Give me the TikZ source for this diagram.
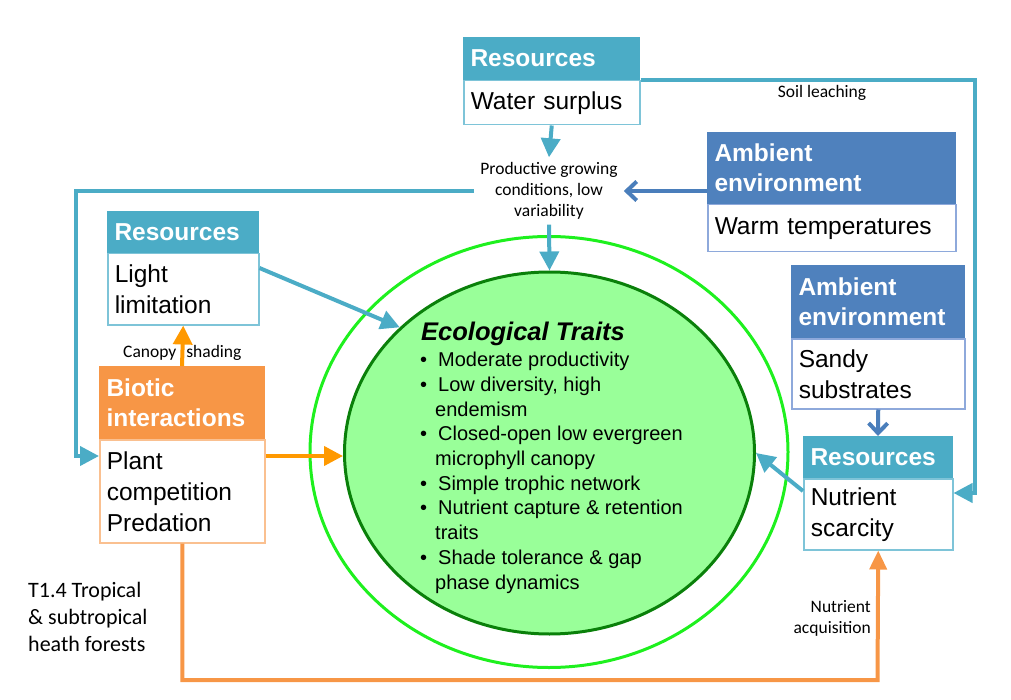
\documentclass[tikz,border=0pt]{standalone}
\usepackage{fontspec}
\setmainfont{Liberation Sans}
\newfontfamily\calfont{Carlito}
\usetikzlibrary{arrows.meta,shapes.geometric,calc}
\definecolor{teal1}{HTML}{4BACC6}
\definecolor{tealb}{HTML}{7EC4D8}
\definecolor{amb}{HTML}{4F81BD}
\definecolor{ambb}{HTML}{8EA9DB}
\definecolor{barr}{HTML}{4A7EBB}
\definecolor{org}{HTML}{F79646}
\definecolor{orgb}{HTML}{FAC090}
\definecolor{orgarr}{HTML}{FF9900}
\definecolor{gout}{HTML}{1EF01E}
\definecolor{gin}{HTML}{0A800A}
\definecolor{gfill}{HTML}{99FF99}
\newcommand{\tbul}{\makebox[18pt][l]{\textbullet}}
\newcommand{\tcont}{\hspace*{15pt}}
\tikzset{
  hdr/.style={anchor=north west, inner xsep=7pt, inner ysep=0pt, align=left, text=white,
    line width=1pt, font=\fontsize{24.5}{30}\selectfont\bfseries},
  bodybox/.style={anchor=north west, inner xsep=7pt, inner ysep=0pt, align=left, fill=white,
    line width=1.5pt, font=\fontsize{24.5}{31}\selectfont},
  tarrow/.style={draw=teal1, line width=4pt, -{Triangle[length=19pt,width=19pt]}},
  barrow/.style={draw=barr, line width=4pt, -{Straight Barb[length=10pt,width=19pt]}},
  oarrow/.style={draw=orgarr, line width=4pt, -{Triangle[length=19pt,width=19pt]}},
  oarrowb/.style={draw=org, line width=4pt, -{Triangle[length=19pt,width=17pt]}},
  smalllbl/.style={inner sep=0pt, font=\calfont\fontsize{17.5}{21}\selectfont},
}
\begin{document}
\begin{tikzpicture}[x=1pt,y=-1pt]
\useasboundingbox (0,0) rectangle (1011,700);

% ellipses
\node[ellipse, draw=gout, line width=3pt, minimum width=478pt, minimum height=431pt, inner sep=0pt] (outer) at (549,452) {};
\node[ellipse, draw=gin, fill=gfill, line width=3pt, minimum width=410pt, minimum height=362pt, inner sep=0pt] (ell) at (549.5,453) {};

% traits text
\node[anchor=base west, inner sep=0pt, font=\fontsize{25.5}{30}\selectfont\bfseries\itshape] (tt) at (421,341) {Ecological Traits};
\node[anchor=base west, inner sep=0pt, align=left, font=\fontsize{20}{24.7}\selectfont] (tr) at (420,589) {%
\tbul Moderate productivity\\
\tbul Low diversity, high\\
\tcont endemism\\
\tbul Closed-open low evergreen\\
\tcont microphyll canopy\\
\tbul Simple trophic network\\
\tbul Nutrient capture \& retention\\
\tcont traits\\
\tbul Shade tolerance \& gap\\
\tcont phase dynamics};

% boxes
\node[hdr, fill=teal1, draw=teal1, minimum width=176pt, minimum height=42pt, text width=162pt] (r1h) at (463,37) {Resources};
\node[bodybox, draw=tealb, minimum width=176pt, minimum height=44pt, text width=162pt] (r1b) at (r1h.south west) {Water surplus};

\node[hdr, fill=amb, draw=amb, minimum width=248pt, minimum height=71pt, text width=234pt] (a1h) at (707,132) {Ambient\\environment};
\node[bodybox, draw=ambb, minimum width=248pt, minimum height=47pt, text width=234pt] (a1b) at (a1h.south west) {Warm temperatures};

\node[hdr, fill=teal1, draw=teal1, minimum width=151pt, minimum height=41pt, text width=137pt] (lbh) at (107,211) {Resources};
\node[bodybox, draw=tealb, minimum width=151pt, minimum height=71pt, text width=137pt] (lbb) at (lbh.south west) {Light\\limitation};

\node[hdr, fill=amb, draw=amb, minimum width=173pt, minimum height=72pt, text width=159pt] (a2h) at (791,265) {Ambient\\environment};
\node[bodybox, draw=ambb, minimum width=173pt, minimum height=70pt, text width=159pt] (a2b) at (a2h.south west) {Sandy\\substrates};

\node[hdr, fill=teal1, draw=teal1, minimum width=149pt, minimum height=41pt, text width=135pt] (nrh) at (803,436) {Resources};
\node[bodybox, draw=tealb, minimum width=149pt, minimum height=71pt, text width=135pt] (nrb) at (nrh.south west) {Nutrient\\scarcity};

\node[hdr, fill=org, draw=org, minimum width=165pt, minimum height=72pt, text width=151pt] (bh) at (99,366) {Biotic\\interactions};
\node[bodybox, draw=orgb, minimum width=165pt, minimum height=103pt, text width=151pt] (bb) at (bh.south west) {Plant\\competition\\Predation};

% labels
\node[smalllbl, align=center, inner xsep=6pt, inner ysep=5pt] (prod) at (549,191) {Productive growing\\conditions, low\\variability};
\node[smalllbl] (soil) at (822,93) {Soil leaching};
\node[smalllbl, anchor=base west] (canopy) at (123,357) {Canopy\hspace{10pt}shading};
\node[smalllbl, align=right, anchor=east] (nacq) at (871,618) {Nutrient\\acquisition};
\node[anchor=west, inner sep=0pt, align=left, font=\calfont\fontsize{22}{27}\selectfont] (title) at (28,617) {T1.4 Tropical\\\& subtropical\\heath forests};

% coordinates
\coordinate (lc) at (76,0);
\coordinate (slc) at (975,0);
\coordinate (pin) at ([yshift=-17pt]bb.north west);
\coordinate (nin) at ([yshift=-15pt]nrb.north east);
\coordinate (bout) at ([yshift=-17pt]bb.north east);
\coordinate (lout) at ([yshift=-15pt]lbb.north east);
\coordinate (nout) at ([yshift=-13pt]nrb.north west);
\coordinate (botr) at (877.5,680);

% connectors
\draw[tarrow] (r1b.south) -- (prod.north);
\draw[tarrow] (prod.south) -- (ell.north);
\draw[barrow] (prod.east -| a1h.west) -- (prod.east);
\draw[tarrow] (prod.west) -- (prod.west -| lc) -- (lc |- pin) -- (pin);
\draw[tarrow] (r1b.north east) -- (r1b.north east -| slc) -- (slc |- nin) -- (nin);
\draw[tarrow] (lout) -- (ell.140);
\draw[tarrow] (nout) -- (ell.0);
\draw[barrow] (a2b.south) -- (nrh.north);
\draw[oarrow] (bh.north) -- (lbb.south);
\draw[oarrow] (bout) -- (bout -| ell.west);
\draw[oarrowb] (bb.south) |- (botr) -- (nrb.south);
\end{tikzpicture}
\end{document}
